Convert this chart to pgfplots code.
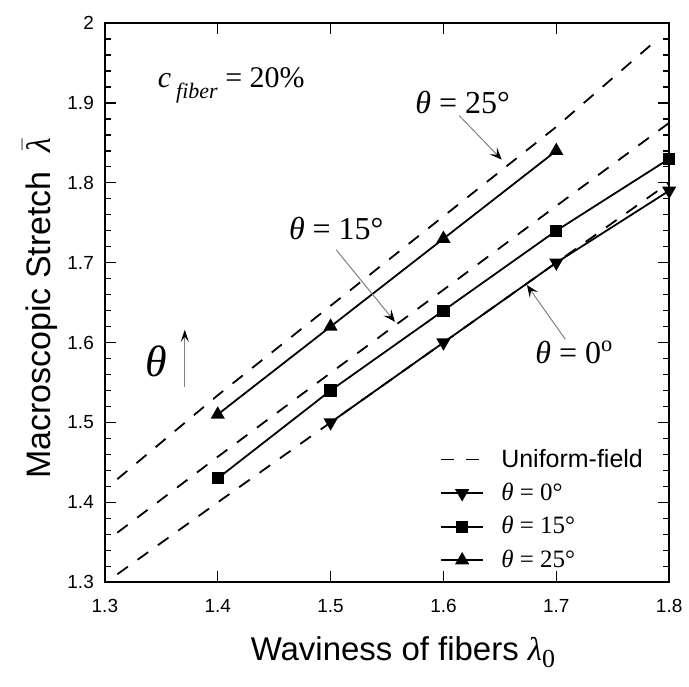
\documentclass[border=0pt]{standalone}
\usepackage{fontspec}
\setmainfont{Liberation Sans}
\newfontfamily\tms{Liberation Serif}
\usepackage{pgfplots}
\pgfplotsset{compat=1.18}
\usetikzlibrary{arrows.meta}

\newcommand{\thetxt}[1]{{\tms\textit{θ} = #1°}}

\begin{document}
\begin{tikzpicture}
\begin{axis}[name=ax, scale only axis, width=282.5pt, height=280pt,
 xmin=1.3, xmax=1.8, ymin=1.3, ymax=2,
 xtick={1.3,1.4,1.5,1.6,1.7,1.8}, ytick={1.3,1.4,1.5,1.6,1.7,1.8,1.9,2.0},
 minor y tick num=4,
 tick align=inside,
 major tick length=5.5pt, minor tick length=3pt,
 axis line style={line width=0.9pt},
 tick style={line width=0.7pt, black},
 ticklabel style={font=\fontsize{9.5}{11}\selectfont},
 /pgf/number format/assume math mode=true,
 xticklabel style={yshift=-5pt},
 yticklabel style={xshift=-2pt},
 xlabel={Waviness of fibers {\tms\textit{λ}\raisebox{-0.5ex}{\fontsize{13}{14}\selectfont 0}}},
 ylabel={Macroscopic Stretch\ \ {\tms$\bar{\textit{λ}}$}},
 label style={font=\fontsize{16.5}{19}\selectfont},
 xlabel style={yshift=-5pt, xshift=8pt},
 ylabel style={at={(ticklabel cs:0.49)}, yshift=-2pt, font=\fontsize{17}{19}\selectfont},
 legend style={draw=none, fill=none, at={(rel axis cs:0.97,0.008)}, anchor=south east,
   font=\fontsize{12.5}{15}\selectfont, row sep=3.5pt,
   nodes={inner sep=1.5pt}},
 legend cell align=left,
 legend image code/.code={\draw[#1] (0cm,0cm) -- (0.75cm,0cm) plot coordinates {(0.375cm,0cm)};},
]
\addplot[black, line width=0.9pt, dash pattern=on 6.5pt off 6pt] coordinates {
 (1.311,1.429) (1.4,1.534) (1.5,1.646) (1.6,1.758) (1.7,1.870) (1.79,1.98)};
\addlegendentry{\hspace{7pt}Uniform-field}
\addplot[black, line width=0.9pt, dash pattern=on 6.5pt off 6pt, forget plot] coordinates {
 (1.311,1.362) (1.4,1.457) (1.5,1.562) (1.6,1.666) (1.7,1.771) (1.8,1.875)};
\addplot[black, line width=0.9pt, dash pattern=on 6.5pt off 6pt, forget plot] coordinates {
 (1.311,1.31) (1.4,1.40) (1.5,1.50) (1.6,1.60) (1.7,1.70) (1.8,1.80)};
\addplot[black, line width=0.9pt, mark=triangle*, mark size=3.2pt, mark options={solid, rotate=180}] coordinates {
 (1.5,1.50) (1.6,1.60) (1.7,1.70) (1.8,1.79)};
\addlegendentry{\hspace{7pt}\thetxt{0}}
\addplot[black, line width=0.9pt, mark=square*, mark size=2.6pt, mark options={solid}] coordinates {
 (1.4,1.43) (1.5,1.54) (1.6,1.64) (1.7,1.74) (1.8,1.83)};
\addlegendentry{\hspace{7pt}\thetxt{15}}
\addplot[black, line width=0.9pt, mark=triangle*, mark size=3.2pt, mark options={solid}] coordinates {
 (1.4,1.51) (1.5,1.62) (1.6,1.73) (1.7,1.84)};
\addlegendentry{\hspace{7pt}\thetxt{25}}

\node[font=\fontsize{15}{17}\selectfont] at (axis cs:1.412,1.922)
  {\tms\textit{c}\,\raisebox{-0.75ex}{\fontsize{11}{12}\selectfont\textit{fiber}}\ =\ 20\%};
\node[font=\fontsize{16}{18}\selectfont] at (axis cs:1.617,1.90) {\thetxt{25}};
\node[font=\fontsize{16}{18}\selectfont] at (axis cs:1.505,1.743) {\thetxt{15}};
\node[font=\fontsize{16}{18}\selectfont] at (axis cs:1.716,1.5875) {{\tms\textit{θ} = 0\textsuperscript{o}}};
\node[font=\fontsize{22}{24}\selectfont] at (axis cs:1.346,1.576) {\tms\textit{θ}};
\draw[gray, line width=0.5pt, -{Stealth[black, length=6pt, width=5pt, inset=2.5pt]}] (axis cs:1.614,1.884) -- (axis cs:1.6516,1.829);
\draw[gray, line width=0.5pt, -{Stealth[black, length=6pt, width=5pt, inset=2.5pt]}] (axis cs:1.505,1.716) -- (axis cs:1.557,1.626);
\draw[gray, line width=0.5pt, -{Stealth[black, length=6pt, width=5pt, inset=2.5pt]}] (axis cs:1.708,1.604) -- (axis cs:1.674,1.672);
\draw[gray, line width=0.6pt, -{Stealth[black, length=6pt, width=4pt, inset=2.5pt]}] (axis cs:1.3708,1.544) -- (axis cs:1.3708,1.616);
\end{axis}
\path (ax.south west) ++(-52.5pt,-52pt) coordinate (bl);
\path (ax.north east) ++(9.5pt,11.5pt) coordinate (tr);
\useasboundingbox (bl) rectangle (tr);
\end{tikzpicture}
\end{document}
